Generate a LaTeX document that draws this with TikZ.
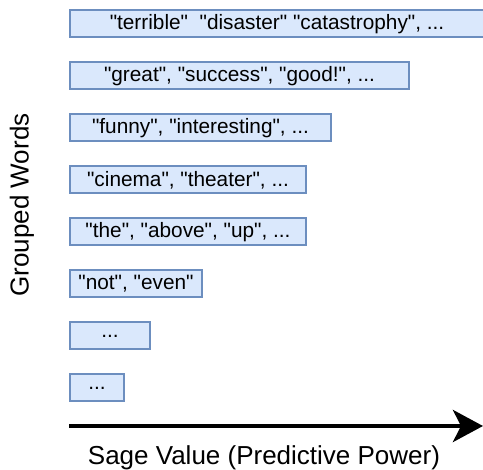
\documentclass[tikz,border=0pt]{standalone}
\usepackage{fontspec}
\setmainfont{Liberation Sans}[Ligatures=TeXOff]
\usetikzlibrary{arrows.meta, positioning}
\definecolor{motfond}{HTML}{DAE8FC}
\definecolor{motbord}{HTML}{6C8EBF}

\begin{document}
\begin{tikzpicture}[
  x=0.75pt, y=-0.75pt,
  mot/.style={
    draw=motbord, fill=motfond, line width=1.5pt,
    anchor=west, minimum height=20.25pt, inner sep=0pt, outer sep=0pt,
    font=\fontsize{15.6}{18}\selectfont
  },
  axe/.style={
    -{Stealth[length=22.5pt, width=24pt, inset=6pt]},
    line width=3.4pt, draw=black
  },
  titreaxe/.style={
    font=\fontsize{19.5}{23}\selectfont, inner sep=0pt
  }
]
\useasboundingbox (0,0) rectangle (483,470);

% ----- Groupes de mots -----
\node[mot, minimum width=310.5pt] (g1) at (70, 24)
  {"terrible"\ \ "disaster" "catastrophy", ...};
\node[mot, minimum width=254.25pt] (g2) at (70, 76)
  {"great", "success", "good!", ...};
\node[mot, minimum width=195.75pt] (g3) at (70, 128)
  {"funny", "interesting", ...};
\node[mot, minimum width=177pt] (g4) at (70, 180)
  {"cinema", "theater", ...};
\node[mot, minimum width=177pt] (g5) at (70, 232)
  {"the", "above", "up", ...};
\node[mot, minimum width=99pt] (g6) at (70, 284)
  {"not", "even"};
\node[mot, minimum width=60pt] (g7) at (70, 336) {...};
\node[mot, minimum width=40.5pt] (g8) at (70, 388) {...};

% ----- Axes -----
\coordinate (axeA) at (69, 426);
\coordinate (axeB) at (483, 426);
\draw[axe] (axeA) -- (axeB);

\node[titreaxe] (xlab) at (264, 458) {Sage Value (Predictive Power)};
\node[titreaxe, rotate=90] (ylab) at (22, 205) {Grouped Words};

\end{tikzpicture}
\end{document}
